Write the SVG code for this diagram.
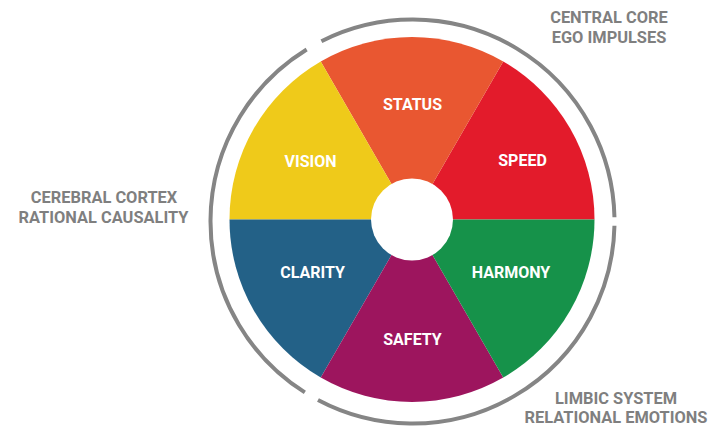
<svg xmlns="http://www.w3.org/2000/svg" width="715" height="427" viewBox="0 0 715 427">
<style>
.seg-label{font-family:Roboto,"Liberation Sans",sans-serif;font-weight:700;font-size:16px;fill:#ffffff;text-anchor:middle}
.zone-label{font-family:Roboto,"Liberation Sans",sans-serif;font-weight:700;font-size:16.4px;fill:#7f7f7f;text-anchor:middle}
.ring{fill:none;stroke:#858585;stroke-width:4}
</style>
<rect width="715" height="427" fill="#ffffff"/>
<g id="wheel">
<g id="speed"><path d="M412,219.5 L594.5,219.5 A182.5,182.5 0 0 0 503.25,61.45 Z" fill="#E31B2B"/><text class="seg-label" x="522.5" y="166">SPEED</text></g>
<g id="status"><path d="M412,219.5 L503.25,61.45 A182.5,182.5 0 0 0 320.75,61.45 Z" fill="#E95731"/><text class="seg-label" x="412.5" y="110">STATUS</text></g>
<g id="vision"><path d="M412,219.5 L320.75,61.45 A182.5,182.5 0 0 0 229.5,219.5 Z" fill="#EFCA1A"/><text class="seg-label" x="310.5" y="167">VISION</text></g>
<g id="clarity"><path d="M412,219.5 L229.5,219.5 A182.5,182.5 0 0 0 320.75,377.55 Z" fill="#236187"/><text class="seg-label" x="312.5" y="278.3">CLARITY</text></g>
<g id="safety"><path d="M412,219.5 L320.75,377.55 A182.5,182.5 0 0 0 503.25,377.55 Z" fill="#9D155E"/><text class="seg-label" x="412.5" y="345">SAFETY</text></g>
<g id="harmony"><path d="M412,219.5 L503.25,377.55 A182.5,182.5 0 0 0 594.5,219.5 Z" fill="#16924A"/><text class="seg-label" x="511" y="278.3">HARMONY</text></g>
<circle id="hub" cx="412" cy="219.5" r="41" fill="#ffffff"/>
</g>
<g id="connectors">
<path class="ring" d="M614.46,217.27 A202,202 0 0 0 321.42,41.19"/>
<path class="ring" d="M306.65,49.46 A202,202 0 0 0 304.85,392.43"/>
<path class="ring" d="M317.98,400.03 A202,202 0 0 0 614.46,225.73"/>
</g>
<g id="central-core"><text class="zone-label" x="609" y="23">CENTRAL CORE</text><text class="zone-label" x="609" y="43">EGO IMPULSES</text></g>
<g id="cerebral-cortex"><text class="zone-label" x="104" y="203">CEREBRAL CORTEX</text><text class="zone-label" x="103.5" y="223">RATIONAL CAUSALITY</text></g>
<g id="limbic-system"><text class="zone-label" x="616" y="404">LIMBIC SYSTEM</text><text class="zone-label" x="616" y="423">RELATIONAL EMOTIONS</text></g>
</svg>
